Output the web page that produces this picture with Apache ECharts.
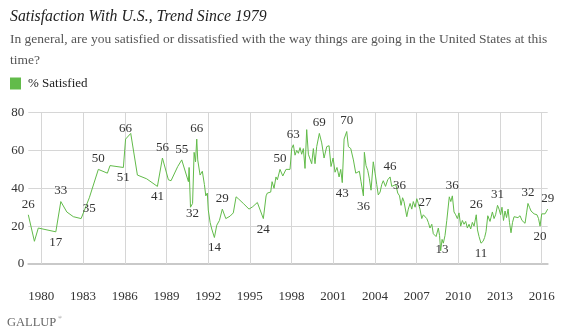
<!DOCTYPE html>
<html>
<head>
<meta charset="utf-8">
<title>Satisfaction With U.S., Trend Since 1979</title>
<script src="https://cdn.jsdelivr.net/npm/echarts@6/dist/echarts.min.js"></script>
<style>
  html, body { margin: 0; padding: 0; background: #fff; }
  #chart { width: 564px; height: 329px; }
</style>
</head>
<body>
<div id="chart"></div>
<script>
// Poll dates as decimal years and the share satisfied (%) at each poll.
const pollDates = [
  1979.06, 1979.50, 1979.78, 1981.04, 1981.40, 1981.83, 1982.30, 1982.86, 1983.45, 1984.10,
  1984.75, 1984.94, 1985.90, 1986.06, 1986.43, 1986.91, 1987.58, 1988.35, 1988.71, 1989.14,
  1989.33, 1989.81, 1990.10, 1990.58, 1990.63, 1990.73, 1990.88, 1990.99, 1991.09, 1991.18,
  1991.25, 1991.42, 1991.58, 1991.73, 1991.83, 1991.94, 1992.01, 1992.14, 1992.26, 1992.45,
  1992.62, 1992.81, 1993.02, 1993.27, 1993.58, 1993.81, 1994.01, 1994.17, 1994.53, 1994.94,
  1995.21, 1995.54, 1995.97, 1996.17, 1996.26, 1996.38, 1996.50, 1996.60, 1996.74, 1996.88,
  1996.98, 1997.17, 1997.37, 1997.60, 1997.89, 1998.01, 1998.13, 1998.25, 1998.37, 1998.49,
  1998.61, 1998.73, 1998.85, 1998.97, 1999.09, 1999.21, 1999.28, 1999.45, 1999.57, 1999.69,
  1999.81, 2000.00, 2000.17, 2000.34, 2000.53, 2000.70, 2000.84, 2000.99, 2001.13, 2001.27,
  2001.42, 2001.54, 2001.65, 2001.78, 2001.87, 2001.97, 2002.09, 2002.26, 2002.45, 2002.62,
  2002.76, 2002.88, 2003.00, 2003.17, 2003.24, 2003.36, 2003.48, 2003.60, 2003.72, 2003.88,
  2004.01, 2004.13, 2004.24, 2004.37, 2004.49, 2004.60, 2004.76, 2004.92, 2005.09, 2005.21,
  2005.35, 2005.50, 2005.64, 2005.77, 2005.88, 2005.99, 2006.09, 2006.29, 2006.40, 2006.53,
  2006.65, 2006.76, 2006.89, 2007.01, 2007.12, 2007.24, 2007.37, 2007.48, 2007.60, 2007.73,
  2007.84, 2007.96, 2008.09, 2008.20, 2008.40, 2008.56, 2008.65, 2008.73, 2008.83, 2008.92,
  2009.04, 2009.17, 2009.35, 2009.46, 2009.57, 2009.69, 2009.81, 2009.93, 2010.05, 2010.17,
  2010.29, 2010.41, 2010.53, 2010.65, 2010.77, 2010.89, 2011.01, 2011.13, 2011.29, 2011.38,
  2011.49, 2011.63, 2011.78, 2011.89, 2011.99, 2012.12, 2012.28, 2012.45, 2012.57, 2012.68,
  2012.82, 2012.93, 2013.04, 2013.14, 2013.25, 2013.36, 2013.47, 2013.58, 2013.68, 2013.79,
  2013.90, 2014.01, 2014.15, 2014.29, 2014.44, 2014.58, 2014.69, 2014.80, 2014.91, 2015.01,
  2015.12, 2015.23, 2015.34, 2015.45, 2015.55, 2015.66, 2015.77, 2015.88, 2016.00, 2016.13,
  2016.24, 2016.43
];
const pctSatisfied = [
  26, 12, 19, 17, 33, 27.5, 25, 24, 35, 50,
  48, 52, 51, 66, 69, 47, 45, 41, 56, 44.5,
  44, 51.5, 55, 43.5, 51, 30, 32, 59, 54, 66,
  55, 47, 49, 42, 36, 37.5, 28.5, 22, 18.5, 14,
  20.5, 23, 29, 24, 25.3, 27, 35.5, 34.5, 32, 29,
  30.3, 32.5, 24, 36, 37.5, 36.5, 38, 43.5, 40, 46,
  44.5, 50, 46.5, 50, 50, 61, 63, 57.5, 60, 58.5,
  61.5, 58, 61, 50.5, 71, 58, 56.5, 53, 61, 53,
  62, 69, 64, 56, 62, 62.5, 51.5, 56, 48.5, 51,
  46, 50, 43, 66, 67, 70, 62, 61, 55, 48,
  47, 49, 43.5, 36, 59, 52, 49.5, 45, 39, 54,
  48, 42, 36.5, 38, 42, 44, 41, 44.5, 46, 41,
  40, 42, 37.5, 36, 31, 35, 33, 25, 29, 32,
  29, 33, 30, 34.5, 32, 29, 24, 26, 27, 24,
  22, 19, 21, 16, 14.5, 19, 15, 7, 13, 11,
  15, 23, 35.5, 33, 36, 27.5, 26, 24, 27, 20,
  23, 21, 22.5, 19, 21, 18.5, 22, 20, 26, 18,
  14.5, 11, 12, 14, 17, 25.5, 22.5, 27.5, 24, 26,
  31, 29, 26, 30, 23, 28, 24.5, 29, 22, 16.5,
  22, 25, 24, 24.5, 25.5, 23, 24, 21.5, 27, 32,
  30, 28, 29, 26.5, 27.5, 26, 24, 20, 26.5, 27.5,
  26.5, 29
];
// Polls whose value is printed on the chart.
const calloutDates = [
  1979.06, 1981.04, 1981.40, 1983.45, 1984.10, 1985.90, 1986.06, 1988.35, 1988.71, 1990.10,
  1990.88, 1991.18, 1992.45, 1993.02, 1995.97, 1997.17, 1998.13, 2000.00, 2001.65, 2001.97,
  2003.17, 2005.09, 2005.77, 2007.60, 2008.83, 2009.57, 2011.29, 2011.63, 2012.82, 2015.01,
  2015.88, 2016.43
];
const yearTicks = [1980, 1983, 1986, 1989, 1992, 1995, 1998, 2001, 2004, 2007, 2010, 2013, 2016];
const seriesName = '% Satisfied';

// Label placement: which callouts sit under the line, and small sideways nudges.
const calloutsBelow = [1981.04, 1983.45, 1985.90, 1988.35, 1990.88, 1992.45, 1995.97, 2001.65,
  2003.17, 2008.83, 2011.63, 2015.88];
const calloutNudge = { 1983.45: 8, 1986.06: -3, 1990.88: 2, 2007.60: 4, 2012.82: 4, 2005.09: -2 };

const GREEN = '#62bb4a';
const SERIF = '"Liberation Serif", "DejaVu Serif", serif';

const points = pollDates.map((d, i) => {
  const item = { value: [d, pctSatisfied[i]] };
  if (calloutDates.includes(d)) {
    item.label = {
      show: true,
      position: calloutsBelow.includes(d) ? 'bottom' : 'top',
      offset: [calloutNudge[d] || 0, 0]
    };
  }
  return item;
});

const chart = echarts.init(document.getElementById('chart'), null, { renderer: 'canvas' });
chart.setOption({
  animation: false,
  backgroundColor: '#fff',
  title: [
    {
      text: 'Satisfaction With U.S., Trend Since 1979',
      left: 5, top: 4,
      textStyle: { fontFamily: SERIF, fontStyle: 'italic', fontWeight: 'normal', fontSize: 15.8, color: '#222' }
    },
    {
      text: 'In general, are you satisfied or dissatisfied with the way things are going in the United States at this\ntime?',
      left: 5, top: 24,
      textStyle: { fontFamily: SERIF, fontWeight: 'normal', fontSize: 13.5, color: '#555', lineHeight: 21 }
    }
  ],
  legend: {
    left: 5, top: 72,
    icon: 'rect',
    itemWidth: 11, itemHeight: 12, itemGap: 10,
    textStyle: { fontFamily: SERIF, fontSize: 13, color: '#222', padding: [0, 0, 0, 2] },
    data: [seriesName]
  },
  grid: { left: 28.3, right: 16.3, top: 112.6, bottom: 65, containLabel: false },
  xAxis: {
    type: 'value',
    min: pollDates[0],
    max: pollDates[pollDates.length - 1],
    offset: 3,
    axisLine: { show: true, lineStyle: { color: '#c9c9c9', width: 2 } },
    axisTick: { show: true, inside: true, length: 3, customValues: yearTicks, lineStyle: { color: '#d6d6d6' } },
    axisLabel: {
      customValues: yearTicks,
      margin: 23,
      fontFamily: SERIF, fontSize: 13, color: '#333',
      formatter: v => String(Math.round(v))
    },
    splitLine: { show: true, lineStyle: { color: '#d6d6d6', width: 1 } }
  },
  yAxis: {
    type: 'value',
    min: 0, max: 80, interval: 20,
    axisLine: { show: false },
    axisTick: { show: false },
    axisLabel: { margin: 4, fontFamily: SERIF, fontSize: 13, color: '#333' },
    splitLine: { show: true, lineStyle: { color: '#d6d6d6', width: 1 } }
  },
  series: [{
    name: seriesName,
    type: 'line',
    data: points,
    showSymbol: true,
    symbol: 'circle',
    symbolSize: 0,
    color: GREEN,
    itemStyle: { color: GREEN },
    lineStyle: { color: GREEN, width: 1 },
    label: {
      show: false,
      distance: 4,
      fontFamily: SERIF, fontSize: 13, color: '#333',
      formatter: p => String(Math.round(p.value[1]))
    },
    labelLayout: { hideOverlap: false }
  }],
  graphic: [
    {
      type: 'text', left: 7, top: 316,
      style: { text: 'GALLUP', font: '12.5px ' + SERIF, fill: '#666' }
    },
    {
      type: 'text', left: 58, top: 315,
      style: { text: '®', font: '5px ' + SERIF, fill: '#666' }
    }
  ]
});
</script>
</body>
</html>
